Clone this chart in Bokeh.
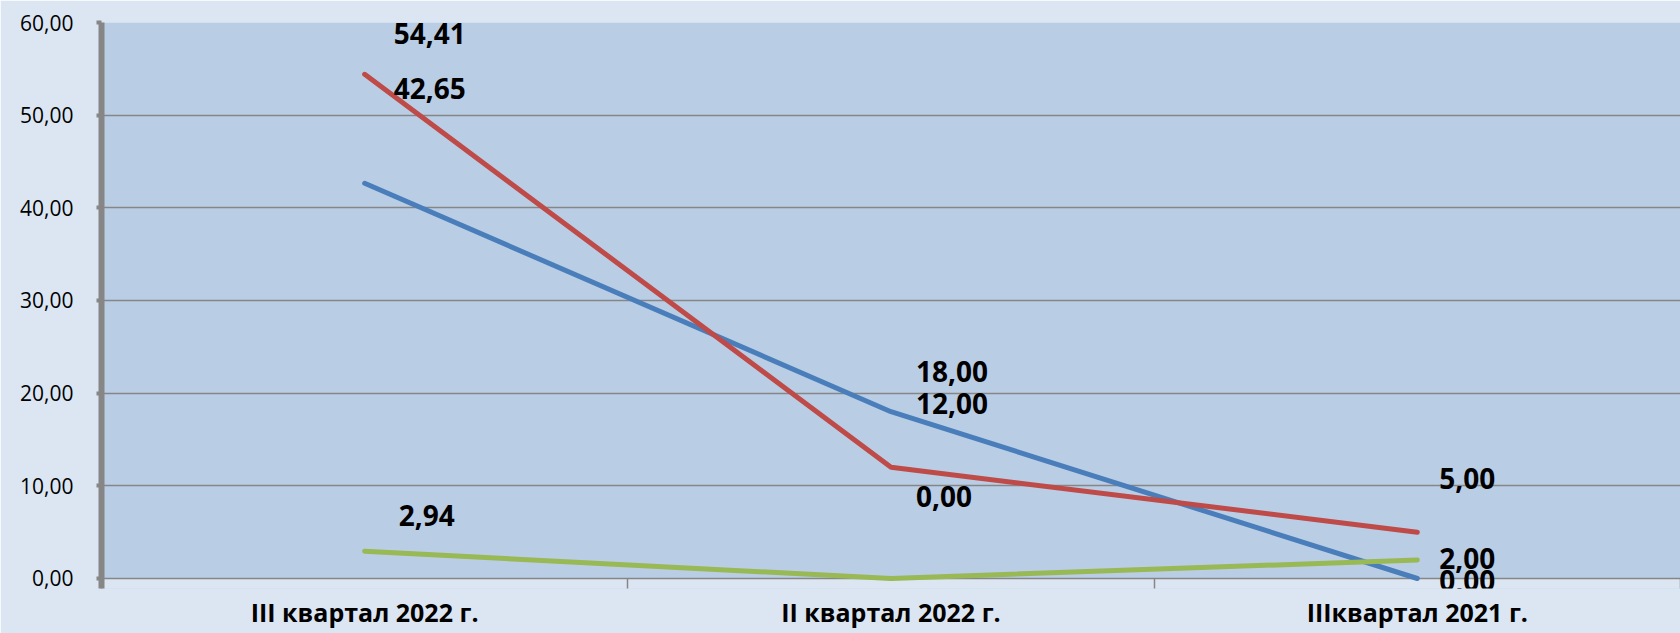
from bokeh.plotting import figure
from bokeh.models import ColumnDataSource, FixedTicker, CustomJSTickFormatter, Range1d, LabelSet, BoxAnnotation
from bokeh.core.properties import value
from bokeh.embed import file_html
from bokeh.resources import INLINE

categories = ["III квартал 2022 г.", "II квартал 2022 г.", "IIIквартал 2021 г."]
blue_values = [42.65, 18.00, 0.00]
red_values = [54.41, 12.00, 5.00]
green_values = [2.94, 0.00, 2.00]
y_ticks = [0, 10, 20, 30, 40, 50, 60]

# label screen offsets (style): (right, up)
blue_off = [(65, 95), (61, 40), (50, -2)]
red_off = [(65, 41), (61, 64), (50, 54)]
green_off = [(62, 36), (53, 82), (50, 1)]

xs = [i + 0.5 for i in range(len(categories))]

# frame extends ~10px below zero so the axis ticks / lowest labels are not clipped
p = figure(width=1680, height=633, output_backend="svg", toolbar_location=None,
           x_range=Range1d(0, len(categories)), y_range=Range1d(-1.08, 60),
           min_border_left=101, min_border_right=0, min_border_top=22, min_border_bottom=45)
p.background_fill_color = "#B9CDE5"
p.border_fill_color = "#DCE6F2"
p.outline_line_color = None

# strip below zero painted with the outer colour
p.add_layout(BoxAnnotation(top=0, fill_color="#DCE6F2", fill_alpha=1, line_color=None, level="image"))

# y axis
yax = p.yaxis[0]
yax.ticker = FixedTicker(ticks=y_ticks)
yax.formatter = CustomJSTickFormatter(code="return tick.toFixed(2).replace('.', ',');")
yax.axis_line_color = "#868686"
yax.axis_line_width = 6
yax.major_tick_line_color = "#868686"
yax.major_tick_line_width = 4
yax.major_tick_out = 5
yax.major_tick_in = 0
yax.minor_tick_line_color = None
yax.major_label_standoff = 23
yax.major_label_text_font = "Open Sans"
yax.major_label_text_font_size = "21px"
yax.major_label_text_color = "#000000"

# x axis
xax = p.xaxis[0]
xax.ticker = FixedTicker(ticks=xs, minor_ticks=list(range(len(categories) + 1)))
xax.major_label_overrides = {x: c for x, c in zip(xs, categories)}
xax.axis_line_color = None
xax.major_tick_line_color = None
xax.major_tick_out = 0
xax.major_tick_in = 0
xax.minor_tick_line_color = "#868686"
xax.minor_tick_line_width = 1.5
xax.minor_tick_out = 0
xax.minor_tick_in = 10
xax.major_label_standoff = 6
xax.major_label_text_font = "Open Sans"
xax.major_label_text_font_style = "bold"
xax.major_label_text_font_size = "25px"
xax.major_label_text_color = "#000000"

p.xgrid.grid_line_color = None
p.ygrid.grid_line_color = "#868686"
p.ygrid.grid_line_width = 1.5
p.ygrid.ticker = FixedTicker(ticks=y_ticks)

series = [
    (blue_values, "#4A7EBB", blue_off),
    (red_values, "#BE4B48", red_off),
    (green_values, "#98B954", green_off),
]
for vals, color, _ in series:
    p.line(xs, vals, line_color=color, line_width=5, line_cap="round", line_join="round")

for vals, color, offs in series:
    src = ColumnDataSource(dict(
        x=xs, y=vals,
        t=[f"{v:.2f}".replace(".", ",") for v in vals],
        xo=[o[0] for o in offs], yo=[o[1] for o in offs],
    ))
    p.add_layout(LabelSet(x="x", y="y", text="t", x_offset="xo", y_offset="yo", source=src,
                          text_align="center", text_baseline="middle",
                          text_font=value("Open Sans"), text_font_style="bold",
                          text_font_size="28px", text_color="#000000"))

open("out.html", "w").write(file_html(p, INLINE))
